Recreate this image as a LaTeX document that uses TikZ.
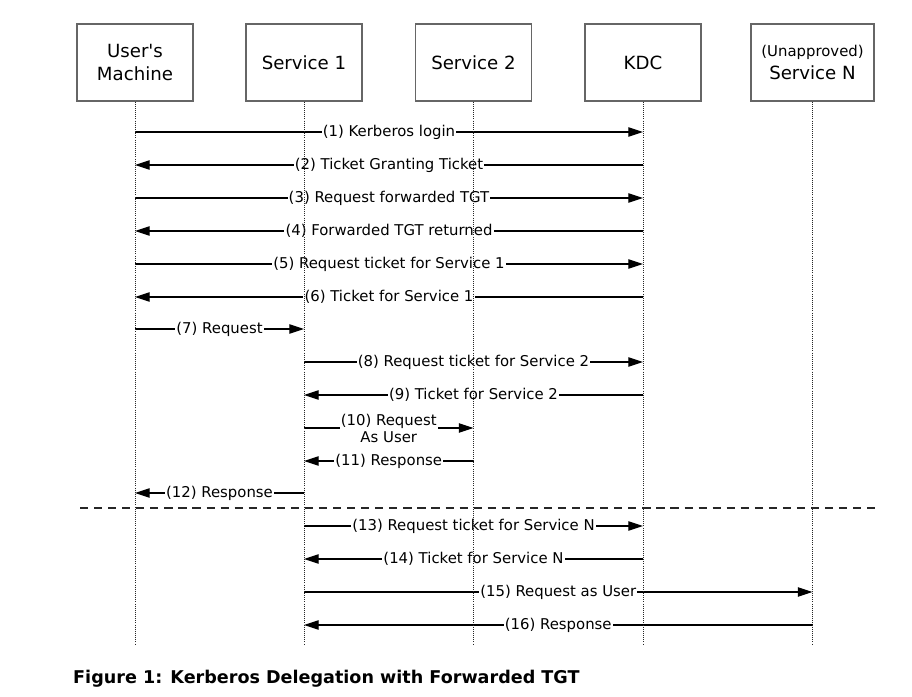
\documentclass[tikz,border=0pt]{standalone}
\usepackage{fontspec}
\setmainfont{DejaVu Sans}
\usetikzlibrary{arrows.meta}
\begin{document}
\begin{tikzpicture}[x=0.8536pt,y=-0.8536pt,actor/.style={shape=rectangle,draw=black!60,line width=1.1pt,minimum width=99pt,minimum height=65.7pt,align=center,font=\fontsize{15.5}{19}\selectfont},life/.style={densely dotted,black!85,line width=0.8pt},msg/.style={black,line width=1pt,-{Triangle[length=12.5pt,width=8pt]}},lbl/.style={fill=white,inner sep=1pt,align=center,font=\fontsize{12.7}{14.5}\selectfont},sep/.style={black!85,line width=1pt,dash pattern=on 7pt off 5pt}]
\def\yend{645};
% one message: from, to, y, label
\def\msg#1#2#3#4{\coordinate (#1#3) at (#1 |- 0,#3);\coordinate (#2#3) at (#2 |- 0,#3);\draw[msg] (#1#3) -- node[lbl] {#4} (#2#3);}

\useasboundingbox (0,0) rectangle (912,697);

\node[actor] (um) at (135,62.5) {User\textquotesingle s\\Machine};
\node[actor] (sa) at (304,62.5) {Service 1};
\node[actor] (sb) at (473.5,62.5) {Service 2};
\node[actor] (kdc) at (643,62.5) {KDC};
\node[actor,minimum width=105pt] (sn) at (812.5,62.5) {{\fontsize{12.7}{14}\selectfont (Unapproved)}\\Service N};

\msg{um}{kdc}{132}{(1) Kerberos login}
\msg{kdc}{um}{165}{(2) Ticket Granting Ticket}
\msg{um}{kdc}{198}{(3) Request forwarded TGT}
\msg{kdc}{um}{231}{(4) Forwarded TGT returned}
\msg{um}{kdc}{264}{(5) Request ticket for Service 1}
\msg{kdc}{um}{297}{(6) Ticket for Service 1}
\msg{um}{sa}{329}{(7) Request}
\msg{sa}{kdc}{362}{(8) Request ticket for Service 2}
\msg{kdc}{sa}{395}{(9) Ticket for Service 2}
\msg{sa}{sb}{428}{(10) Request\\As User}
\msg{sb}{sa}{461}{(11) Response}
\msg{sa}{um}{493}{(12) Response}

\coordinate (sepL) at (80,508);
\coordinate (sepR) at (876,508);
\draw[sep] (sepL) -- (sepR);

\msg{sa}{kdc}{526}{(13) Request ticket for Service N}
\msg{kdc}{sa}{559}{(14) Ticket for Service N}
\msg{sa}{sn}{592}{(15) Request as User}
\msg{sn}{sa}{625}{(16) Response}

% lifelines
\coordinate (umE) at (um |- 0,\yend);
\coordinate (saE) at (sa |- 0,\yend);
\coordinate (sbE) at (sb |- 0,\yend);
\coordinate (kdcE) at (kdc |- 0,\yend);
\coordinate (snE) at (sn |- 0,\yend);
\draw[life] (um.south) -- (umE);
\draw[life] (sa.south) -- (saE);
\draw[life] (sb.south) -- (sbE);
\draw[life] (kdc.south) -- (kdcE);
\draw[life] (sn.south) -- (snE);

\node[anchor=west,inner sep=0pt,font=\bfseries\fontsize{15}{17}\selectfont] (cap) at (73,679) {Figure 1: Kerberos Delegation with Forwarded TGT};
\end{tikzpicture}
\end{document}
